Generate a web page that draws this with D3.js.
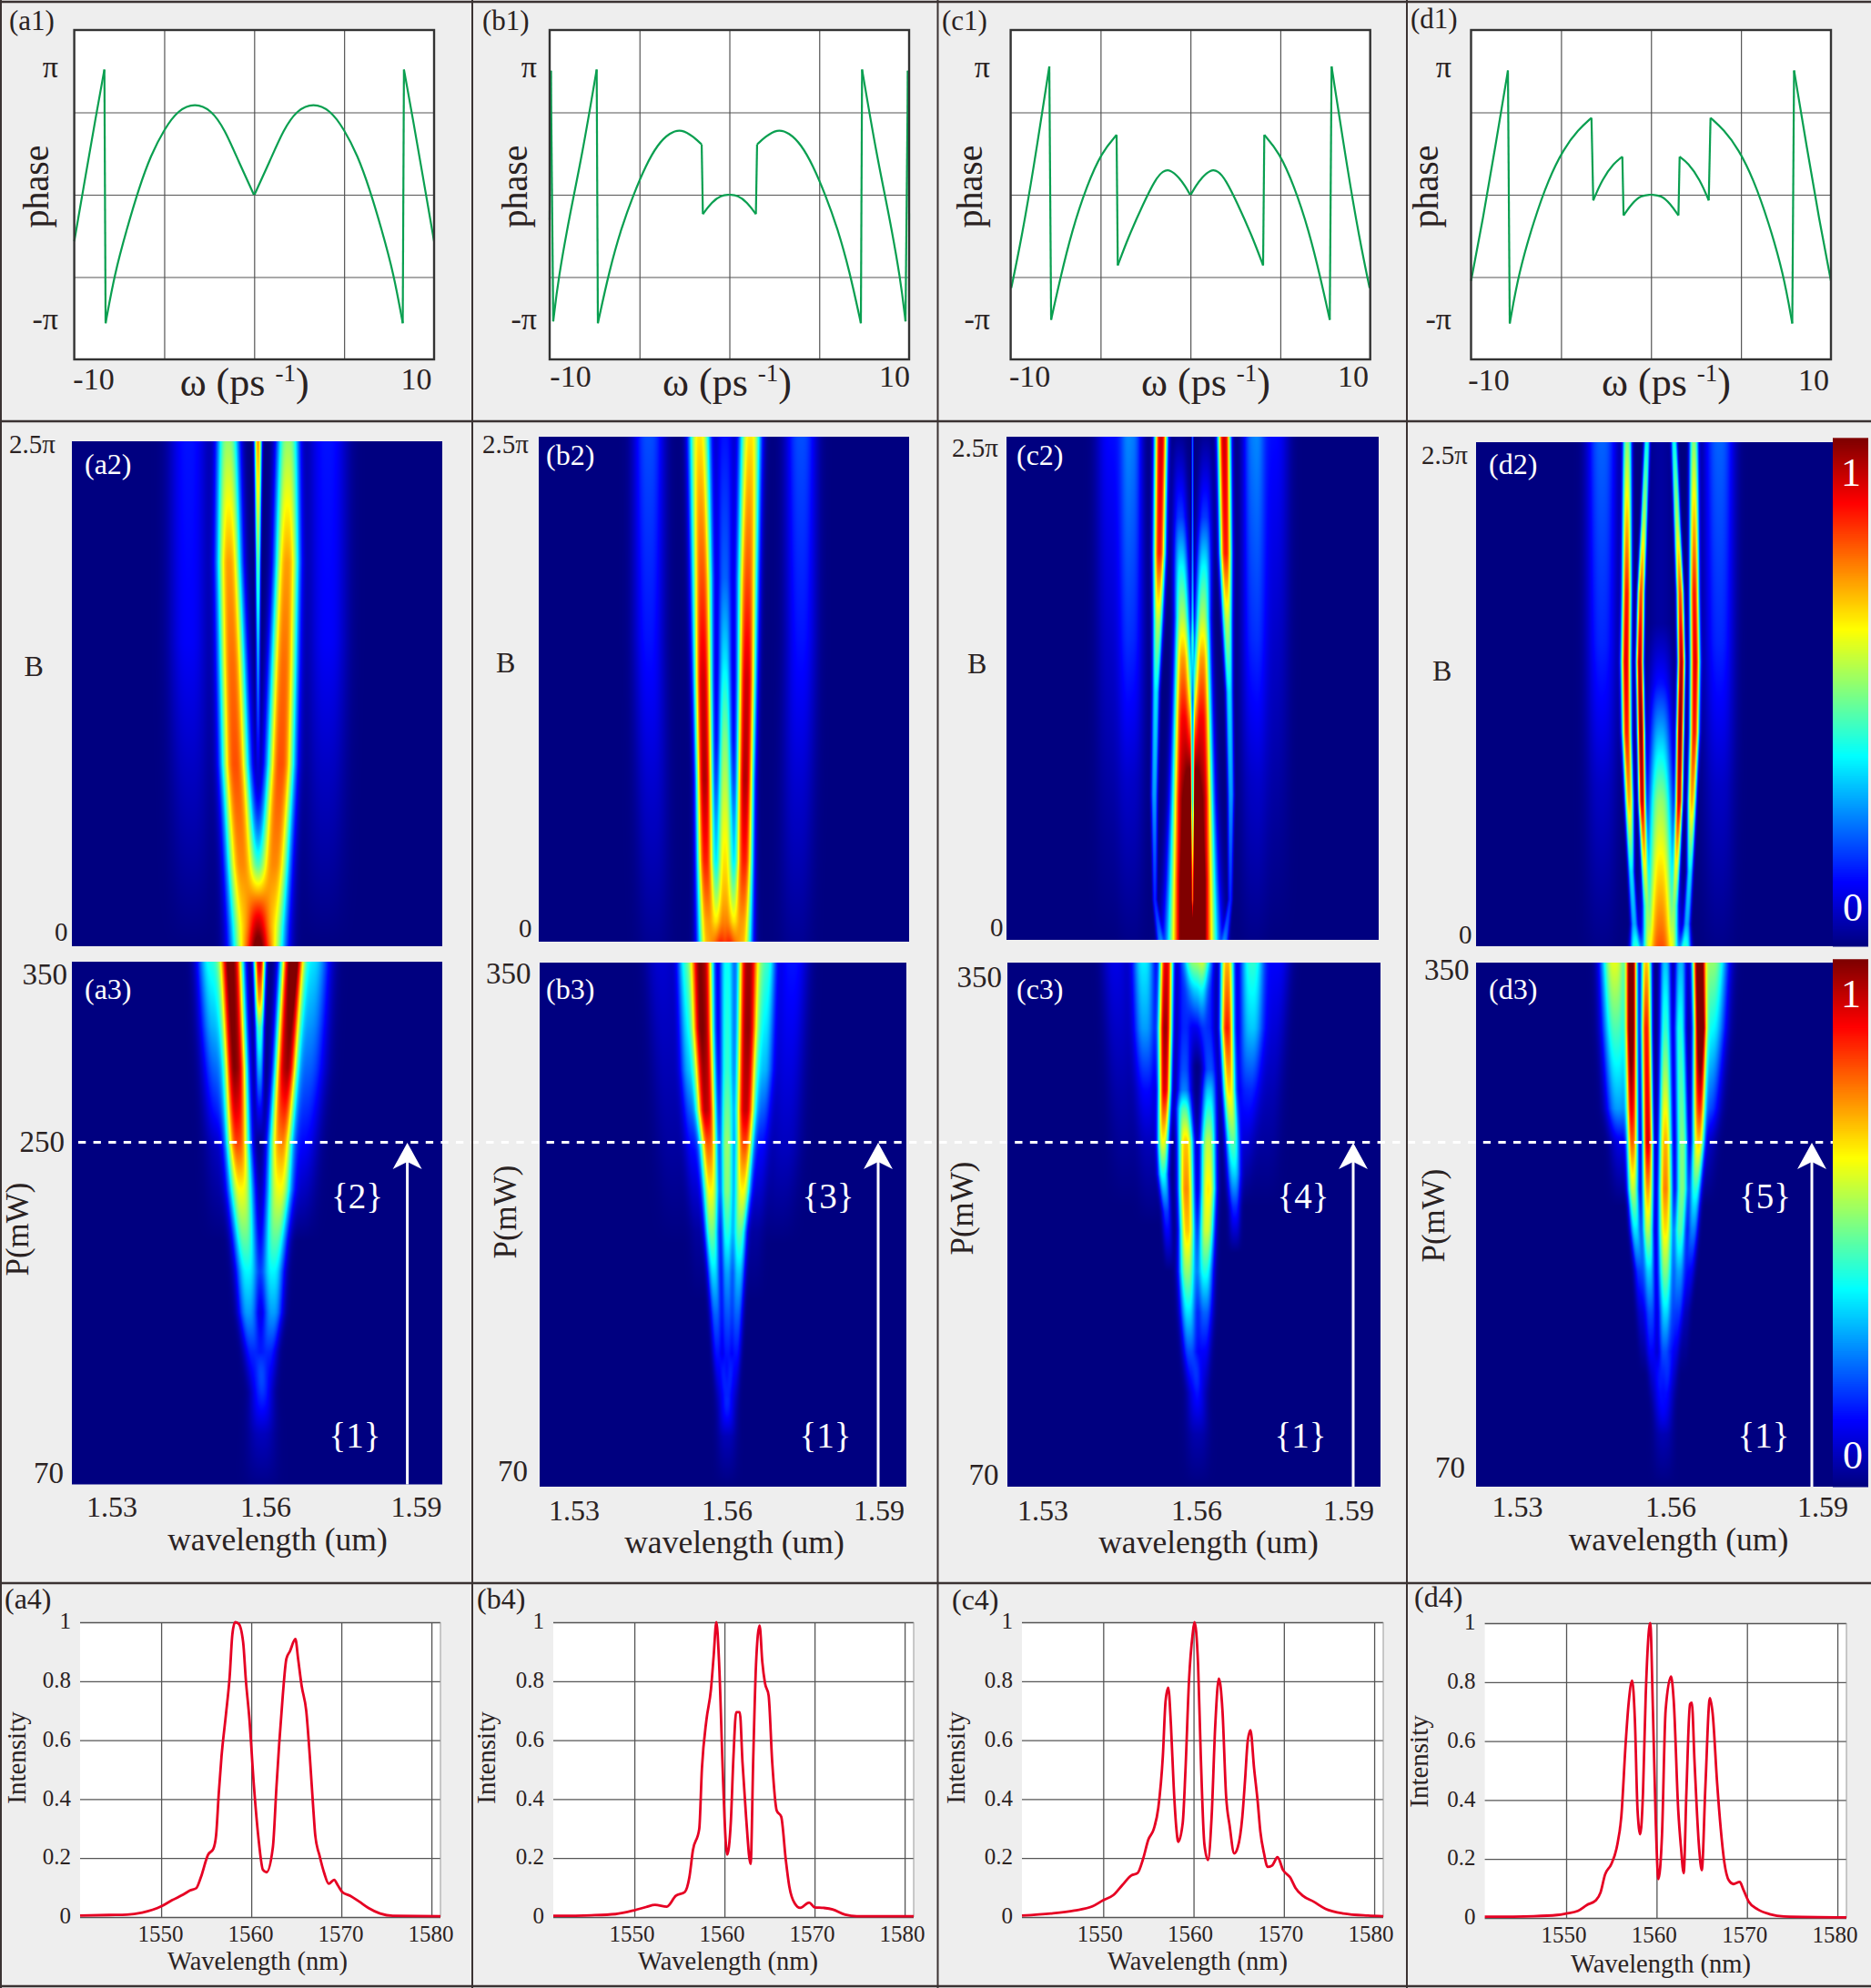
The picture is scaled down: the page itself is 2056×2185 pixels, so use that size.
<!DOCTYPE html>
<html><head><meta charset="utf-8">
<script src="https://cdn.jsdelivr.net/npm/d3@7"></script>
<style>html,body{margin:0;padding:0;background:#eeeeee}svg{display:block}text{font-family:"Liberation Serif","Times New Roman",serif}</style>
</head><body><svg id="c" width="2056" height="2185" viewBox="0 0 2056 2185"></svg>
<script>
// ---------- phase curves: left half, [omega ps^-1, phase / pi]; each inner array is one branch
const phaseA=[[[-12,-.368],[-11.2,.18],[-10.6,.59],[-9.99,.988]],
 [[-9.91,-1.014],[-9.3,-.62],[-8.5,-.273],[-7.69,.05],[-6.89,.313],[-6,.517],[-5.07,.67],[-3.95,.725],[-2.86,.67],[-1.97,.517],[-1.05,.266],[-.02,0]]];
const phaseB=[[[-12,-.2],[-11.92,.978]],
 [[-11.76,-1],[-11.43,-.667],[-10.63,-.141],[-9.83,.313],[-8.86,.988]],
 [[-8.78,-1.014],[-8.01,-.596],[-7.21,-.26],[-6.4,.002],[-5.6,.227],[-4.79,.397],[-3.99,.49],[-3.18,.52],[-2.38,.455],[-1.85,.397]],
 [[-1.77,-.153],[-1.17,-.057],[-.56,-.005],[0,0]]];
const phaseC=[[[-11.96,-.737],[-11.29,-.355],[-10.49,.193],[-9.42,1.013]],
 [[-9.3,-.987],[-8.7,-.665],[-7.91,-.284],[-6.91,.074],[-5.92,.336],[-4.93,.472]],
 [[-4.85,-.558],[-4.13,-.331],[-3.14,-.069],[-2.34,.122],[-1.83,.19],[-1.35,.2],[-.755,.135],[-.36,.07],[-.02,0]]];
const phaseD=[[[-12,-.68],[-11.2,-.19],[-10.41,.36],[-9.54,.98]],
 [[-9.42,-1.016],[-8.82,-.618],[-7.83,-.212],[-6.84,.121],[-5.84,.36],[-4.85,.514],[-3.97,.607]],
 [[-3.85,-.045],[-3.26,.121],[-2.46,.252],[-1.91,.3]],
 [[-1.83,-.164],[-1.27,-.069],[-.68,-.005],[0,0]]];

// ---------- measured spectra: [wavelength nm, normalised intensity]
const spectrumA=[[1541,.005],[1544.2,.007],[1546.2,.008],[1547.9,.015],[1550,.036],[1551.2,.057],[1552.5,.077],[1553.2,.09],[1553.9,.098],[1554.4,.134],[1555.2,.211],[1555.8,.232],[1556.1,.278],[1556.4,.422],[1556.7,.545],[1557.2,.69],[1557.6,.814],[1557.9,.958],[1558.2,1],[1558.6,.995],[1559.1,.932],[1559.4,.804],[1559.8,.67],[1560.3,.443],[1560.8,.268],[1561.3,.16],[1561.7,.152],[1562.4,.237],[1562.8,.443],[1563.1,.587],[1563.5,.752],[1563.9,.876],[1564.3,.902],[1564.9,.943],[1565.2,.876],[1565.6,.783],[1566.1,.7],[1566.5,.545],[1566.9,.361],[1567.1,.278],[1567.6,.206],[1568.1,.149],[1568.6,.113],[1569.2,.126],[1569.6,.108],[1570.1,.085],[1571,.072],[1572,.052],[1573,.031],[1574.3,.012],[1575.7,.004],[1581,.003]];
const spectrumB=[[1541,.004],[1545.2,.006],[1547.9,.01],[1550,.023],[1551.3,.034],[1552.3,.041],[1553.6,.035],[1554.6,.072],[1555.6,.085],[1556.1,.134],[1556.5,.227],[1557.2,.299],[1557.5,.505],[1558,.669],[1558.5,.772],[1558.8,.885],[1559.1,1],[1559.4,.865],[1559.8,.505],[1560,.34],[1560.3,.212],[1560.7,.319],[1561,.545],[1561.3,.695],[1561.7,.695],[1562,.525],[1562.4,.34],[1562.9,.18],[1563.2,.545],[1563.5,.855],[1563.9,.989],[1564.2,.865],[1564.5,.793],[1564.9,.752],[1565.3,.525],[1565.8,.361],[1566.3,.34],[1566.8,.196],[1567.2,.103],[1567.8,.046],[1568.4,.031],[1569.4,.049],[1570,.033],[1571,.031],[1572,.026],[1573.4,.008],[1574.7,.003],[1581,.003]];
const spectrumC=[[1541,.005],[1544.2,.012],[1546.8,.022],[1548.8,.036],[1550,.057],[1551.1,.074],[1552.1,.108],[1553.1,.141],[1553.8,.149],[1554.4,.196],[1555,.263],[1555.6,.299],[1556.1,.371],[1556.6,.546],[1556.9,.732],[1557.2,.778],[1557.5,.649],[1557.8,.443],[1558.1,.299],[1558.3,.255],[1558.8,.319],[1559.1,.495],[1559.5,.804],[1559.9,.959],[1560.1,1],[1560.5,.856],[1560.8,.546],[1561.2,.247],[1561.6,.193],[1562,.34],[1562.4,.649],[1562.8,.809],[1563.2,.701],[1563.6,.412],[1564,.309],[1564.5,.216],[1564.9,.237],[1565.4,.34],[1565.7,.464],[1566,.598],[1566.3,.634],[1566.7,.505],[1567.1,.392],[1567.4,.289],[1567.8,.216],[1568.2,.17],[1568.7,.175],[1569.3,.203],[1569.9,.16],[1570.7,.134],[1571.3,.098],[1572.1,.072],[1573.3,.052],[1574.6,.028],[1576.6,.012],[1579.3,.005],[1581,.003]];
const spectrumD=[[1541,.004],[1546.4,.006],[1549,.01],[1550,.015],[1551.3,.024],[1552.3,.044],[1553.3,.06],[1553.8,.086],[1554.3,.147],[1555,.183],[1555.6,.24],[1556.1,.344],[1556.6,.601],[1556.9,.725],[1557.3,.805],[1557.6,.673],[1557.9,.364],[1558.2,.284],[1558.5,.426],[1558.8,.755],[1559.3,1],[1559.6,.701],[1559.9,.34],[1560.2,.132],[1560.6,.281],[1561,.704],[1561.6,.819],[1561.9,.736],[1562.4,.364],[1562.7,.24],[1563,.152],[1563.3,.426],[1563.7,.725],[1563.9,.73],[1564.2,.529],[1564.7,.24],[1565,.162],[1565.4,.446],[1565.9,.746],[1566.2,.695],[1566.7,.457],[1567.1,.302],[1567.5,.188],[1568,.127],[1568.5,.115],[1569.2,.122],[1569.6,.096],[1570.2,.055],[1571.2,.029],[1572.5,.013],[1574.1,.005],[1581,.002]];

// ---------- heat-map ridges: [row value, offset nm, peak level, width nm]
// row value: B/pi in the (x2) maps, P in mW in the (x3) maps. A negative level is a thin notch.
const a2Lobe=[[2.5,-5.9,.52,1.7],[1.9,-5.7,.72,1.85],[1.4,-5.1,.77,2],[.9,-4.5,.8,2.1],[.4,-3.2,.74,2.3],[.1,-2.2,.65,2.6],[0,-1.9,.64,2.7]];
const a2Centre=[[2.5,0,.72,.55],[2.2,0,.6,.46],[1.9,0,.45,.38],[1.5,0,.3,.32],[1.1,0,.15,.3],[.8,0,0,.3]];
const a2Side=[[2.5,-13.7,.14,2.9],[1.5,-13.7,.12,2.9],[.8,-13.4,.06,2.9],[0,-13,0,2.9]];
const b2Lobe=[[2.5,-5,.65,1.6],[1.8,-4.5,.8,1.5],[1.3,-4.3,.92,1.35],[.8,-4,.95,1.25],[.4,-3.8,.85,1.3],[.1,-3.4,.72,1.5],[0,-3.2,.7,1.6]];
const b2Centre=[[2.5,0,.14,1.4],[1.8,0,.22,1.1],[1.4,0,.35,1],[1,0,.5,1],[.6,0,.6,1.2],[.2,0,.7,1.3],[0,0,.75,1.4]];
const b2Side=[[2.5,-15,.2,2.3],[1.5,-15,.14,2.3],[.8,-14.5,.08,2.4],[0,-14,.02,2.4]];
const c2Outer=[[2.5,-6.2,.92,.95],[1.92,-6.5,.85,.9],[1.58,-6.8,.55,.75],[1.23,-7.2,.35,.55],[.72,-7.5,.28,.5],[.2,-7.4,.15,.35],[0,-6.4,.18,.5]];
const c2Inner=[[2.5,-2.6,.02,1],[2.1,-2.4,.18,1.1],[1.85,-2.2,.38,1.1],[1.6,-2,.55,1.1],[1.4,-1.9,.72,1.2],[1.1,-1.8,.88,1.4],[.7,-1.7,.98,1.7],[.3,-1.5,.95,2.2],[0,-1.4,.8,2.7]];
const c2Thread=[[2.5,0,.22,.15],[1.5,0,.25,.18],[1.2,0,0,.18]];
const c2Notch=[[1.5,0,-.01,.22],[1.2,0,-.55,.22],[.7,0,-.68,.24],[.2,0,-.5,.24],[0,0,-.15,.24]];
const c2Side=[[2.5,-12,.24,1.6],[1.5,-12,.16,1.8],[.8,-12,.07,1.9],[0,-12,.01,1.9]];
const c2Far=[[2.5,-16,.13,2.2],[1.5,-16,.07,2.2],[.5,-16,.02,2.2],[0,-16,0,2.2]];
const d2Outer=[[2.5,-6.8,.5,.7],[1.75,-6.9,.85,.72],[1.41,-7.05,.9,.75],[1.06,-6.9,.85,.72],[.72,-6.4,.7,.65],[.37,-6,.35,.5],[.11,-5.4,.28,.55],[0,-5.2,.38,.8]];
const d2Inner=[[2.5,-2.8,.38,.48],[2.1,-3.4,.55,.5],[1.75,-4,.8,.54],[1.41,-4.25,.95,.56],[1.06,-4,1,.56],[.72,-3.8,.9,.54],[.45,-3.4,.55,.5],[.2,-3,.2,.45],[0,-2.8,.1,.5]];
const d2Centre=[[1.6,0,.03,1.7],[1.3,0,.14,1.8],[1,0,.34,1.8],[.72,0,.52,1.9],[.4,0,.65,2.1],[.1,0,.76,2.4],[0,0,.8,2.6]];
const d2Side=[[2.5,-12,.22,2.3],[1.5,-12,.16,2.3],[.8,-12,.07,2.4],[0,-12,.01,2.4]];

const a3Left=[[350,-5.6,.97,1.65],[293,-4.8,.96,1.65],[253,-4.4,.8,1.75],[228,-3.8,.62,1.85],[184,-2.6,.37,1.7],[162,-2.4,.28,1.5],[141,-1.6,.16,1.35],[119,-.3,.09,1.5],[97,0,.03,2],[70,0,.005,2.4]];
const a3Right=[[350,6.1,.93,1.65],[293,4.9,.9,1.65],[253,3.9,.72,1.75],[228,3.6,.6,1.85],[184,2.4,.37,1.7],[162,2.4,.28,1.5],[141,1.6,.16,1.35],[119,.8,.09,1.5],[97,.5,.03,2],[70,.5,.005,2.4]];
const a3Centre=[[350,-.2,.92,.85],[330,-.2,.72,.72],[315,-.2,.45,.66],[293,-.2,.3,.6],[271,-.2,.12,.6],[253,-.2,0,.6]];
const a3HaloL=[[350,-9.5,.4,2.2],[315,-9,.3,2.2],[271,-8.2,.15,2.2],[250,-8,.06,2.2],[200,-7.5,0,2.2]];
const a3HaloR=[[350,9.8,.35,2.8],[293,9,.22,2.8],[250,8,.12,2.5],[200,7,0,2.5]];
const b3Left=[[350,-4.8,.96,1.55],[315,-4.6,.97,1.5],[271,-4,.92,1.4],[253,-3.6,.78,1.3],[228,-3.2,.62,1.2],[206,-3,.48,1.05],[184,-2.6,.34,.95],[162,-2.2,.22,.9],[141,-1.9,.14,.8],[119,-1,.08,1],[97,0,.02,1.5],[70,0,0,1.5]];
const b3Right=[[350,4.2,.96,1.55],[315,4,.97,1.5],[271,3.6,.92,1.4],[253,3.4,.8,1.3],[228,3,.62,1.2],[206,2.5,.46,1.05],[184,2.3,.32,.95],[162,2,.22,.9],[141,1.8,.14,.8],[119,1,.08,1],[97,0,.02,1.5],[70,0,0,1.5]];
const b3Centre=[[350,0,.38,1.1],[293,0,.42,1],[253,0,.52,.95],[228,0,.5,.9],[206,0,.4,.85],[184,0,.28,.8],[162,0,.2,.75],[141,0,.14,.7],[119,0,.06,.9],[97,0,.015,1.4],[70,0,0,1.4]];
const b3HaloL=[[350,-7.8,.42,1.5],[293,-7.3,.3,1.5],[250,-6.5,.12,1.5],[206,-5.5,.03,1.5],[170,-5,0,1.5]];
const b3HaloR=[[350,7.7,.42,1.5],[293,7.2,.3,1.5],[250,6.4,.12,1.5],[206,5.4,.03,1.5],[170,5,0,1.5]];
const b3FarL=[[350,-13,.08,2.4],[250,-11,.03,2.4],[200,-10,0,2.4]];
const b3FarR=[[350,13,.14,2.4],[250,11.5,.06,2.4],[200,10,0,2.4]];
const c3OuterL=[[350,-6.1,.9,1],[315,-6.3,.97,1],[282,-6.4,.9,.9],[254,-6.7,.6,.85],[237,-6.7,.38,.8],[217,-6.1,.18,.7],[185,-5.5,0,.7]];
const c3OuterR=[[350,5.8,.7,1],[315,5.8,.85,1],[282,6.2,.65,.95],[254,6.8,.42,1],[237,7.1,.3,1],[217,7.3,.15,.85],[195,7.3,0,.85]];
const c3InnerL=[[315,-2.5,.16,1.1],[293,-2.6,.2,1.1],[282,-2.6,.25,1.1],[272,-2.6,.45,1.15],[254,-2.3,.68,1.15],[229,-2.2,.74,1.15],[207,-2,.68,1.15],[185,-2,.52,1.25],[163,-1.8,.35,1.2],[142,-1.5,.2,1.1],[120,-.6,.09,1.2],[98,0,.03,1.7],[70,0,0,1.7]];
const c3InnerR=[[315,2,.16,1.1],[293,2.4,.2,1.1],[282,2.3,.32,1.1],[254,2.1,.56,1.15],[229,2.1,.64,1.15],[207,1.8,.58,1.15],[185,1.5,.4,1.2],[163,1.5,.22,1.15],[142,1.2,.12,1.1],[120,.6,.06,1.2],[98,.1,.015,1.6],[70,0,0,1.7]];
const c3Centre=[[350,0,.52,1.7],[335,0,.32,1.3],[315,0,.1,1],[295,0,0,1]];
const c3HaloL=[[350,-10.5,.36,1.7],[315,-10.3,.28,1.7],[282,-10,.13,1.7],[250,-9.5,.05,1.8],[210,-9,0,1.8]];
const c3HaloR=[[350,10.7,.42,1.8],[315,10.5,.32,1.8],[282,9.9,.16,1.8],[254,9,.08,1.8],[220,8,0,1.8]];
const c3FarL=[[350,-16,.1,2],[280,-15,.04,2],[220,-14,0,2]];
const c3FarR=[[350,15.5,.12,2],[280,14,.05,2],[220,13,0,2]];
const d3Ridge1=[[350,-6.3,.98,.85],[315,-6.3,.98,.85],[254,-6.1,.75,.85],[229,-6,.55,.85],[207,-5.5,.35,.85],[185,-4.7,.18,.85],[163,-4.25,.08,.85],[130,-3.5,0,.85]];
const d3Ridge2=[[350,-3.3,.68,.8],[315,-3.3,.85,.8],[254,-3,.92,.8],[229,-3,.72,.85],[207,-3,.55,.85],[185,-2.7,.33,.85],[163,-2.4,.2,.85],[142,-2.2,.12,.8],[120,-1.4,.05,1],[98,0,0,1.2]];
const d3Ridge3=[[350,.6,.32,.85],[315,.6,.42,.9],[254,.6,.7,1],[229,.6,.75,1.05],[207,.6,.65,1.1],[185,.6,.5,1.1],[163,.6,.34,1.05],[142,.4,.2,1],[120,.2,.11,1.2],[98,.2,.05,1.5],[70,.2,0,1.6]];
const d3Ridge4=[[350,3.7,.3,.85],[315,3.6,.4,.85],[254,4,.5,.9],[229,4,.5,.9],[207,3.6,.45,.9],[185,3.4,.28,.9],[163,3,.17,.85],[142,2.4,.1,.8],[120,1.6,.04,1],[98,.5,0,1.2]];
const d3Ridge5=[[350,7.4,.82,.95],[315,7.65,.9,.95],[254,7.3,.62,.95],[229,6.7,.4,.9],[207,6.2,.25,.85],[185,5.5,.12,.85],[163,4.6,.05,.85],[130,4,0,.85]];
const d3HaloL=[[350,-9.8,.6,2.1],[315,-9.5,.45,2.1],[272,-9,.28,1.9],[254,-8.5,.1,1.7],[220,-8,0,1.7]];
const d3HaloR=[[350,10,.52,2.5],[315,9.8,.38,2.3],[272,9.2,.2,1.9],[254,8.8,.07,1.7],[220,8,0,1.7]];
const ridgeShape=2.6;

// ---------- axis texts
const heatWavelengthTicks=["1.53","1.56","1.59"];
const spectrumTicksX=[1550,1560,1570,1580];
const spectrumTicksY=[0,.2,.4,.6,.8,1];
const omegaGrid=[-6,0,6];
const phaseGrid=[-.65,0,.65];
const jetStops=[0,.125,.375,.625,.875,1];
const jetColours=["#000080","#0000ff","#00ffff","#ffff00","#ff0000","#800000"];

// ---------- layout
const phasePanels=[
 {name:"(a1)",lab:[10,33],data:phaseA,box:[81.6,33,477,395],pi:64,ph:53,neg:[103,457.5],negY:428,om:268.6},
 {name:"(b1)",lab:[530,33],data:phaseB,box:[604,33,999,395],pi:590,ph:579,neg:[627,983],negY:425,om:799},
 {name:"(c1)",lab:[1035,33],data:phaseC,box:[1110.6,33,1505.7,395],pi:1088,ph:1079,neg:[1131.6,1487],negY:425,om:1325},
 {name:"(d1)",lab:[1550,31],data:phaseD,box:[1616.5,33,2012,395],pi:1595,ph:1580,neg:[1636,1993],negY:429,om:1831}];
const mapPanels=[
 {name:"(a2)",lab:[93,520.5],box:[79,485,486,1040],c:1558.7,mirror:[a2Lobe,a2Side],single:[a2Centre],top:[10,498],b:[26.5,743],z:[60,1034]},
 {name:"(b2)",lab:[600,510.5],box:[592,480,999,1035],c:1558.7,mirror:[b2Lobe,b2Side],single:[b2Centre],top:[530,498],b:[545,739],z:[570,1030]},
 {name:"(c2)",lab:[1117,511],box:[1106,480,1515,1033],c:1558.5,mirror:[c2Outer,c2Inner,c2Side,c2Far],single:[c2Thread,c2Notch],top:[1046,502],b:[1063,740],z:[1088,1029]},
 {name:"(d2)",lab:[1636,520.5],box:[1622,486,2014.5,1040],c:1559.7,mirror:[d2Outer,d2Inner,d2Side],single:[d2Centre],top:[1562,510],b:[1574,748],z:[1603,1037]}];
const powerPanels=[
 {name:"(a3)",lab:[93,1098],box:[79,1057,486,1631.5],c:1559.2,single:[a3Left,a3Right,a3Centre,a3HaloL,a3HaloR],p350:[74,1082],p250:[71,1266],p70:[70,1630],pm:[31,1351],tx:[123,292,457.6],ty:1667,wl:[305,1704],arrow:447.6,upper:"{2}",upX:392.6,lowX:390},
 {name:"(b3)",lab:[600,1098],box:[593,1058,996,1634],c:1559.3,single:[b3Left,b3Right,b3Centre,b3HaloL,b3HaloR,b3FarL,b3FarR],p350:[583.5,1081],p70:[580,1628],pm:[567,1332],tx:[631,799,966],ty:1671,wl:[807,1707],arrow:965,upper:"{3}",upX:910,lowX:907},
 {name:"(c3)",lab:[1117,1098],box:[1107,1058,1517,1634],c:1559.2,single:[c3OuterL,c3OuterR,c3InnerL,c3InnerR,c3Centre,c3HaloL,c3HaloR,c3FarL,c3FarR],p350:[1101,1085],p70:[1097.5,1632],pm:[1069,1328],tx:[1146,1315,1482],ty:1671,wl:[1328,1707],arrow:1487,upper:"{4}",upX:1432,lowX:1429},
 {name:"(d3)",lab:[1636,1098],box:[1622,1058,2014.5,1634],c:1560.1,single:[d3Ridge1,d3Ridge2,d3Ridge3,d3Ridge4,d3Ridge5,d3HaloL,d3HaloR],p350:[1614.5,1077],p70:[1610,1624],pm:[1587,1336],tx:[1667.6,1836,2003],ty:1667,wl:[1844.5,1704],arrow:1991,upper:"{5}",upX:1939.6,lowX:1938}];
const specPanels=[
 {name:"(a4)",lab:[5,1768],box:[88,1783,484,2107],data:spectrumA,ix:28,wl:[283,2165],iy:1932,dx:-1},
 {name:"(b4)",lab:[524,1768],box:[608,1783,1004,2107],data:spectrumB,ix:544,wl:[800,2165],iy:1932,dx:-3},
 {name:"(c4)",lab:[1046,1769],box:[1123,1783,1520,2107],data:spectrumC,ix:1059.5,wl:[1316,2165],iy:1932,dx:-4},
 {name:"(d4)",lab:[1554,1766],box:[1631.6,1784,2029,2108],data:spectrumD,ix:1569,wl:[1825,2168],iy:1936,dx:-3}];

const svg=d3.select("#c");
const INK="#2a2222";
svg.append("rect").attr("width",2056).attr("height",2185).attr("fill","#eeeeee");
const label=(x,y,s,size,o={})=>{const t=svg.append("text").attr("x",x).attr("y",y).attr("font-size",size).attr("fill",o.fill||INK).attr("text-anchor",o.anchor||"start").text(s);if(o.rot)t.attr("transform",`rotate(-90 ${x} ${y})`);return t;};
const jet=d3.scaleLinear().domain(jetStops).range(jetColours).clamp(true);

// --- row 1
phasePanels.forEach(p=>{
 const [x0,y0,x1,y1]=p.box;
 const x=d3.scaleLinear().domain([-12,12]).range([x0,x1]);
 const y=d3.scaleLinear().domain([-1.3,1.3]).range([y1,y0]);
 svg.append("rect").attr("x",x0).attr("y",y0).attr("width",x1-x0).attr("height",y1-y0).attr("fill","#fff");
 const gx=svg.append("g").attr("transform",`translate(0,${y1})`).call(d3.axisBottom(x).tickValues(omegaGrid).tickSize(-(y1-y0)).tickFormat(""));
 const gy=svg.append("g").attr("transform",`translate(${x0},0)`).call(d3.axisLeft(y).tickValues(phaseGrid).tickSize(-(x1-x0)).tickFormat(""));
 [gx,gy].forEach(g=>{g.select(".domain").remove();g.selectAll("line").attr("stroke","#555").attr("stroke-width",1.2);});
 const branches=p.data.concat(p.data.map(b=>b.map(d=>[-d[0],d[1]]).reverse()).reverse());
 const line=d3.line().x(d=>x(d[0])).y(d=>y(d[1])).curve(d3.curveLinear);
 branches.forEach(b=>svg.append("path").attr("d",d3.line().x(d=>x(d[0])).y(d=>y(d[1])).curve(d3.curveBasis)(b)).attr("fill","none").attr("stroke","#0a9f50").attr("stroke-width",2.2));
 for(let i=0;i<branches.length-1;i++){const a=branches[i][branches[i].length-1],c=branches[i+1][0];
  if(Math.abs(a[1]-c[1])>.02) svg.append("path").attr("d",line([a,c])).attr("fill","none").attr("stroke","#0a9f50").attr("stroke-width",2.2);}
 svg.append("rect").attr("x",x0).attr("y",y0).attr("width",x1-x0).attr("height",y1-y0).attr("fill","none").attr("stroke","#333").attr("stroke-width",2.4);
 label(p.lab[0],p.lab[1],p.name,31);
 label(p.pi,y(1)+10,"π",34,{anchor:"end"});
 label(p.pi,y(-1)+9,"-π",34,{anchor:"end"});
 label(p.ph,(y0+y1)/2-9,"phase",40,{rot:true,anchor:"middle"});
 label(p.neg[0],p.negY,"-10",34,{anchor:"middle"});
 label(p.neg[1],p.negY,"10",34,{anchor:"middle"});
 const t=label(p.om,435,"",44,{anchor:"middle"});
 t.append("tspan").text("ω (ps ");
 t.append("tspan").attr("font-size",27).attr("dy",-16).text("-1");
 t.append("tspan").attr("dy",16).text(")");
});

// --- heat maps
function drawMap(p,domainY){
 const [x0,y0,x1,y1]=p.box,w=Math.round(x1-x0),h=Math.round(y1-y0);
 const x=d3.scaleLinear().domain([1522,1595]).range([0,w]);
 const y=d3.scaleLinear().domain(domainY).range([h,0]);
 const ridges=(p.single||[]).concat(p.mirror||[]).concat((p.mirror||[]).map(r=>r.map(d=>[d[0],-d[1],d[2],d[3]])));
 const fns=ridges.map(r=>{const ys=r.map(d=>d[0]);return [1,2,3].map(i=>d3.scaleLinear().domain(ys).range(r.map(d=>d[i])).clamp(true));});
 const cv=document.createElement("canvas");cv.width=w;cv.height=h;
 const ctx=cv.getContext("2d"),img=ctx.createImageData(w,h);
 const lut=d3.range(0,1025).map(i=>d3.rgb(jet(i/1024)));
 for(let j=0;j<h;j++){
  const Y=y.invert(j+.5);
  const pr=fns.map(f=>[f[0](Y),f[1](Y),f[2](Y)]);
  for(let i=0;i<w;i++){
   const L=x.invert(i+.5)-p.c;let s=0,m=1;
   for(const q of pr){const d=Math.abs(L-q[0])/q[2],g=Math.exp(-.5*Math.pow(d,ridgeShape));if(q[1]>=0)s+=q[1]*g;else m*=1+q[1]*g;}
   const v=Math.max(0,Math.min(1,s*m)),c=lut[Math.round(v*1024)],k=4*(j*w+i);
   img.data[k]=c.r;img.data[k+1]=c.g;img.data[k+2]=c.b;img.data[k+3]=255;
  }
 }
 ctx.putImageData(img,0,0);
 svg.append("image").attr("x",x0).attr("y",y0).attr("width",x1-x0).attr("height",y1-y0).attr("preserveAspectRatio","none").attr("href",cv.toDataURL());
}
mapPanels.forEach(p=>{
 drawMap(p,[0,2.5]);
 label(p.lab[0],p.lab[1],p.name,32,{fill:"#fff"});
 label(p.top[0],p.top[1],"2.5π",29);
 label(p.b[0],p.b[1],"B",32);
 label(p.z[0],p.z[1],"0",29);
});
powerPanels.forEach(p=>{
 drawMap(p,[70,350]);
 label(p.lab[0],p.lab[1],p.name,32,{fill:"#fff"});
 label(p.p350[0],p.p350[1],"350",33,{anchor:"end"});
 if(p.p250)label(p.p250[0],p.p250[1],"250",33,{anchor:"end"});
 label(p.p70[0],p.p70[1],"70",33,{anchor:"end"});
 label(p.pm[0],p.pm[1],"P(mW)",35,{rot:true,anchor:"middle"});
 heatWavelengthTicks.forEach((s,i)=>label(p.tx[i],p.ty,s,32,{anchor:"middle"}));
 label(p.wl[0],p.wl[1],"wavelength (um)",35.5,{anchor:"middle"});
});

// colour bars
[[484,1040,[2034,534],[2036,1012]],[1057,1634,[2034,1107],[2036,1614]]].forEach(b=>{
 const y=d3.scaleLinear().domain([0,1]).range([b[1],b[0]]);
 const n=d3.range(0,256).map(i=>i/255);
 svg.append("g").selectAll("rect").data(n).join("rect")
  .attr("x",2014).attr("width",39)
  .attr("y",d=>y(d)-(b[1]-b[0])/256-.5).attr("height",(b[1]-b[0])/256+1)
  .attr("fill",d=>jet(d));
 label(b[2][0],b[2][1],"1",44,{fill:"#fff",anchor:"middle"});
 label(b[3][0],b[3][1],"0",44,{fill:"#fff",anchor:"middle"});
});

// dashed line, arrows and state labels
svg.append("line").attr("x1",86).attr("x2",2014).attr("y1",1255.4).attr("y2",1255.4).attr("stroke","#fff").attr("stroke-width",3).attr("stroke-dasharray","8.3 8.3");
powerPanels.forEach(p=>{
 const a=p.arrow,tip=1256,base=p.box[3];
 svg.append("line").attr("x1",a).attr("x2",a).attr("y1",base).attr("y2",tip+15).attr("stroke","#fff").attr("stroke-width",3);
 svg.append("path").attr("fill","#fff").attr("d",d3.line()([[a,tip],[a+16,tip+29],[a,tip+21],[a-16,tip+29]])+"Z");
 label(p.upX,1328,p.upper,39,{fill:"#fff",anchor:"middle"});
 label(p.lowX,1591,"{1}",39,{fill:"#fff",anchor:"middle"});
});

// --- row 4
specPanels.forEach(p=>{
 const [x0,y0,x1,y1]=p.box;
 const x=d3.scaleLinear().domain([1541,1581]).range([x0,x1]);
 const y=d3.scaleLinear().domain([0,1]).range([y1,y0]);
 svg.append("rect").attr("x",x0).attr("y",y0).attr("width",x1-x0).attr("height",y1-y0).attr("fill","#fff");
 const gx=svg.append("g").attr("transform",`translate(0,${y1})`).call(d3.axisBottom(x).tickValues(spectrumTicksX).tickSize(-(y1-y0)).tickPadding(9).tickFormat(d3.format("d")));
 const gy=svg.append("g").attr("transform",`translate(${x0},0)`).call(d3.axisLeft(y).tickValues(spectrumTicksY).tickSize(-(x1-x0)).tickPadding(10).tickFormat(d3.format(".1~f")));
 [gx,gy].forEach(g=>{g.select(".domain").remove();g.selectAll("line").attr("stroke","#555").attr("stroke-width",1.3);
  g.selectAll("text").attr("font-size",25).attr("fill",INK).style("font-family",'"Liberation Serif",serif');});
 gx.selectAll("text").attr("dx",p.dx);
 gy.selectAll("text").attr("dy","0.27em");
 svg.append("line").attr("x1",x1).attr("x2",x1).attr("y1",y0).attr("y2",y1).attr("stroke","#999").attr("stroke-width",1);
 svg.append("path").attr("d",d3.line().x(d=>x(d[0])).y(d=>y(d[1])).curve(d3.curveMonotoneX)(p.data)).attr("fill","none").attr("stroke","#e60023").attr("stroke-width",2.8).attr("stroke-linejoin","round");
 label(p.lab[0],p.lab[1],p.name,32);
 label(p.ix,p.iy,"Intensity",29,{rot:true,anchor:"middle"});
 label(p.wl[0],p.wl[1],"Wavelength (nm)",28.5,{anchor:"middle"});
});

// --- panel rules
const ruleYs=[2,463,1740,2183],ruleXs=[1,519,1030.5,1546];
ruleYs.forEach(v=>svg.append("line").attr("x1",0).attr("x2",2056).attr("y1",v).attr("y2",v).attr("stroke","#3a3232").attr("stroke-width",2.6));
ruleXs.forEach(v=>svg.append("line").attr("x1",v).attr("x2",v).attr("y1",0).attr("y2",2185).attr("stroke","#3a3232").attr("stroke-width",2));
</script></body></html>
